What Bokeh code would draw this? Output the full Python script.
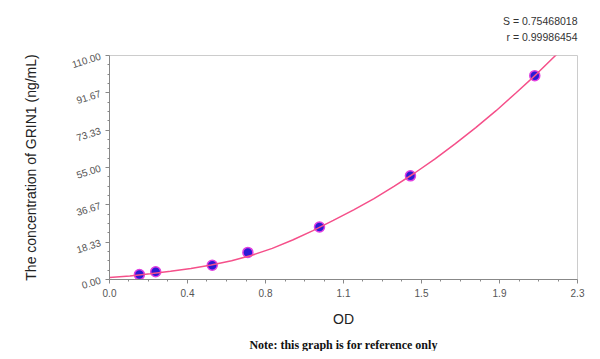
from bokeh.plotting import figure
from bokeh.models import Range1d, FixedTicker, Title
from bokeh.embed import file_html
from bokeh.resources import INLINE

# standard points (OD, concentration)
od_points = [0.147, 0.227, 0.505, 0.680, 1.032, 1.479, 2.090]
conc_points = [2.4, 3.8, 7.0, 13.3, 25.8, 50.9, 100.1]

# fitted curve
curve_od = [0.0, 0.1, 0.2, 0.3, 0.4, 0.5, 0.6, 0.7, 0.8, 0.9, 1.0, 1.1,
            1.2, 1.3, 1.4, 1.5, 1.6, 1.7, 1.8, 1.9, 2.0, 2.1, 2.2, 2.25]
curve_conc = [1.0, 1.7, 2.8, 4.0, 5.4, 7.1, 9.2, 11.9, 15.3, 19.4, 24.0, 29.0,
              34.2, 39.7, 45.8, 52.3, 59.2, 66.7, 74.6, 82.9, 91.8, 101.0, 110.8, 115.5]

x_ticks = [0.0, 0.38333, 0.76667, 1.15, 1.53333, 1.91667, 2.3]
x_labels = ["0.0", "0.4", "0.8", "1.1", "1.5", "1.9", "2.3"]
y_ticks = [0.0, 18.3333, 36.6667, 55.0, 73.3333, 91.6667, 110.0]
y_labels = ["0.00", "18.33", "36.67", "55.00", "73.33", "91.67", "110.00"]

stat_s = "S = 0.75468018"
stat_r = "r = 0.99986454"
note = "Note: this graph is for reference only"

def minors(ticks, n=4):
    out = []
    for a, b in zip(ticks[:-1], ticks[1:]):
        for k in range(1, n):
            out.append(a + (b - a) * k / n)
    return out

p = figure(width=592, height=351, output_backend="svg", toolbar_location=None,
           x_range=Range1d(0, 2.3), y_range=Range1d(0, 110),
           min_border_left=109, min_border_right=15, min_border_top=55,
           min_border_bottom=71)
p.grid.visible = False
p.outline_line_color = "#cccccc"
p.background_fill_color = "white"
p.border_fill_color = "white"

for ax, ticks, labels in ((p.xaxis[0], x_ticks, x_labels), (p.yaxis[0], y_ticks, y_labels)):
    ax.ticker = FixedTicker(ticks=ticks, minor_ticks=minors(ticks))
    ax.major_label_overrides = {t: l for t, l in zip(ticks, labels)}
    ax.axis_line_color = "#888888"
    ax.major_tick_line_color = "#888888"
    ax.minor_tick_line_color = "#888888"
    ax.major_tick_in = 0
    ax.major_tick_out = 4
    ax.minor_tick_in = 0
    ax.minor_tick_out = 2
    ax.major_label_text_font = "Liberation Sans"
    ax.major_label_text_font_size = "10px"
    ax.major_label_text_color = "#555555"
    ax.axis_label_text_font = "Liberation Sans"
    ax.axis_label_text_font_style = "normal"
    ax.axis_label_text_font_size = "14px"
    ax.axis_label_text_color = "#222222"

p.xaxis.axis_label = "OD"
p.xaxis.axis_label_standoff = 11
p.yaxis.axis_label = "The concentration of GRIN1 (ng/mL)"
p.yaxis.axis_label_standoff = 28
p.yaxis.major_label_orientation = 0.3

p.scatter(od_points, conc_points, size=10, fill_color="#2a1ad6",
          line_color="#e040e0", line_width=1.5)
p.line(curve_od, curve_conc, line_color="#f5508a", line_width=1.5)

def spacer(gap):
    return Title(text=" ", text_font_size="1px", standoff=gap)

# statistics above the frame (later titles sit farther out)
p.add_layout(spacer(10), "above")
p.add_layout(Title(text=stat_r, align="right", standoff=0,
                   text_font="Liberation Sans", text_font_style="normal",
                   text_font_size="10.5px", text_color="#333333"), "above")
p.add_layout(Title(text=stat_s, align="right", standoff=4,
                   text_font="Liberation Sans", text_font_style="normal",
                   text_font_size="10.5px", text_color="#333333"), "above")

p.add_layout(spacer(3), "below")
p.add_layout(Title(text=note, align="center", standoff=0,
                   text_font="Liberation Serif", text_font_style="bold",
                   text_font_size="12px", text_color="#111111"), "below")

open("out.html", "w").write(file_html(p, INLINE))
